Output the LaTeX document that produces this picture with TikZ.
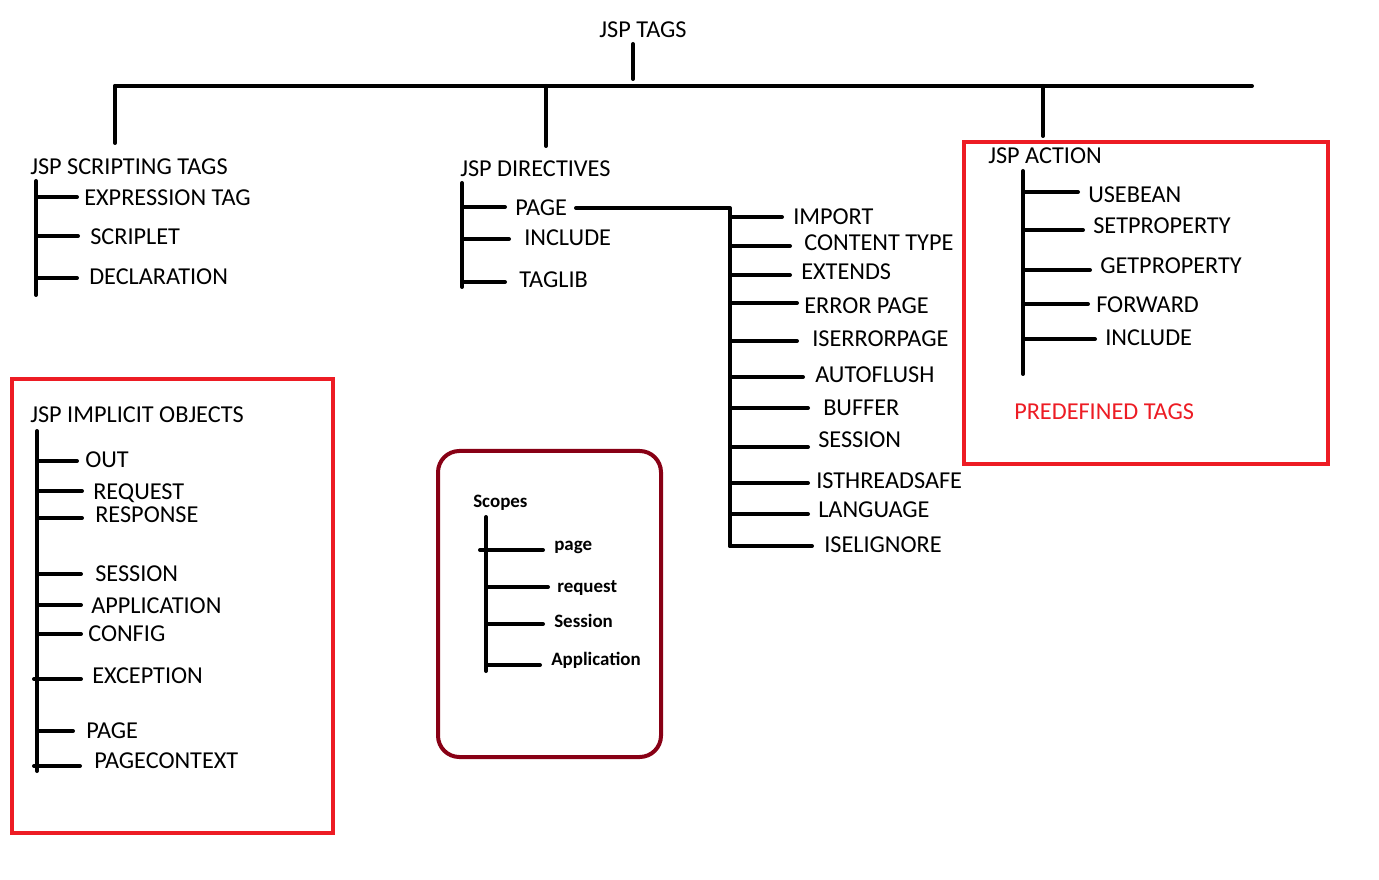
\documentclass[tikz,border=0pt]{standalone}
\usepackage{fontspec}
\setmainfont{Carlito}
\definecolor{paintred}{HTML}{ED1C24}
\definecolor{paintdark}{HTML}{880015}
\tikzset{
  wire/.style={line width=3pt,line cap=round,black},
  lbl/.style={font=\fontsize{18.2}{21}\selectfont,inner sep=0pt,anchor=west,text=black},
  slbl/.style={font=\fontsize{14.2}{17}\selectfont\bfseries,inner sep=0pt,anchor=west,text=black},
  redbox/.style={line width=3pt,draw=paintred},
  scopebox/.style={line width=3pt,draw=paintdark,rounded corners=16pt},
}
% \jspbranch{name}{spine x}{line y}{line end x}{text x}{text y}{style}{text}
\newcommand\jspbranch[8]{%
  \coordinate (#1-a) at (#2,#3);
  \coordinate (#1-b) at (#4,#3);
  \draw[wire] (#1-a) -- (#1-b);
  \node[#7] (#1) at (#5,#6) {#8};
}
\begin{document}
\begin{tikzpicture}[x=0.75pt,y=-0.75pt]
\useasboundingbox (0,0) rectangle (1379,880);
\fill[white] (0,0) rectangle (1379,880);

% root
\node[lbl,anchor=center] (root) at (643,30) {JSP TAGS};
\coordinate (rt) at (633,44);
\coordinate (rb) at (633,79);
\draw[wire] (rt) -- (rb);
\coordinate (barL) at (115,86);
\coordinate (barR) at (1252,86);
\draw[wire] (barL) -- (barR);
\coordinate (d1) at (115,143);
\coordinate (d2t) at (546,86);
\coordinate (d2) at (546,146);
\coordinate (d3t) at (1043,86);
\coordinate (d3) at (1043,136);
\draw[wire] (barL) -- (d1);
\draw[wire] (d2t) -- (d2);
\draw[wire] (d3t) -- (d3);

% scripting tags
\node[lbl] (scr) at (30,167) {JSP SCRIPTING TAGS};
\coordinate (scrT) at (36,181);
\coordinate (scrB) at (36,295);
\draw[wire] (scrT) -- (scrB);
\jspbranch{expr}{36}{197}{77}{84}{198}{lbl}{EXPRESSION TAG}
\jspbranch{scrip}{36}{236}{78}{90}{237}{lbl}{SCRIPLET}
\jspbranch{decl}{36}{278}{77}{89}{277}{lbl}{DECLARATION}

% directives
\node[lbl] (dir) at (460,169) {JSP DIRECTIVES};
\coordinate (dirT) at (462,183);
\coordinate (dirB) at (462,287);
\draw[wire] (dirT) -- (dirB);
\jspbranch{page}{462}{207}{505}{515}{208}{lbl}{PAGE}
\jspbranch{incl}{462}{239}{509}{524}{238}{lbl}{INCLUDE}
\jspbranch{taglib}{462}{282}{505}{519}{280}{lbl}{TAGLIB}
\coordinate (pgE) at (576,208);
\coordinate (pgC) at (730,208);
\coordinate (pgB) at (730,546);
\draw[wire,line join=round] (pgE) -- (pgC) -- (pgB);
\jspbranch{import}{730}{217}{782}{793}{217}{lbl}{IMPORT}
\jspbranch{ctype}{730}{246}{790}{804}{243}{lbl}{CONTENT TYPE}
\jspbranch{ext}{730}{275}{790}{801}{272}{lbl}{EXTENDS}
\jspbranch{errp}{730}{303}{797}{804}{306}{lbl}{ERROR PAGE}
\jspbranch{iserr}{730}{341}{797}{812}{339}{lbl}{ISERRORPAGE}
\jspbranch{afl}{730}{377}{803}{815}{375}{lbl}{AUTOFLUSH}
\jspbranch{buf}{730}{408}{808}{823}{408}{lbl}{BUFFER}
\jspbranch{sess}{730}{447}{808}{818}{440}{lbl}{SESSION}
\jspbranch{thr}{730}{483}{808}{816}{481}{lbl}{ISTHREADSAFE}
\jspbranch{lang}{730}{514}{808}{818}{510}{lbl}{LANGUAGE}
\jspbranch{isel}{730}{546}{812}{824}{545}{lbl}{ISELIGNORE}

% action
\node[redbox,draw,minimum width=364*0.75pt,minimum height=322*0.75pt,inner sep=0pt] (actbox) at (1146,303) {};
\node[lbl] (act) at (988,156) {JSP ACTION};
\coordinate (actT) at (1023,171);
\coordinate (actB) at (1023,374);
\draw[wire] (actT) -- (actB);
\jspbranch{usebean}{1023}{192}{1078}{1088}{195}{lbl}{USEBEAN}
\jspbranch{setp}{1023}{230}{1083}{1093}{226}{lbl}{SETPROPERTY}
\jspbranch{getp}{1023}{270}{1090}{1100}{266}{lbl}{GETPROPERTY}
\jspbranch{fwd}{1023}{304}{1088}{1096}{305}{lbl}{FORWARD}
\jspbranch{ainc}{1023}{339}{1095}{1105}{338}{lbl}{INCLUDE}
\node[lbl,text=paintred] (pre) at (1014,412) {PREDEFINED TAGS};

% implicit objects
\node[redbox,draw,minimum width=321*0.75pt,minimum height=454*0.75pt,inner sep=0pt] (impbox) at (172.5,606) {};
\node[lbl] (imp) at (30,415) {JSP IMPLICIT OBJECTS};
\coordinate (impT) at (37,431);
\coordinate (impB) at (37,771);
\draw[wire] (impT) -- (impB);
\jspbranch{out}{37}{461}{77}{85}{460}{lbl}{OUT}
\jspbranch{req}{37}{491}{82}{93}{493}{lbl}{REQUEST}
\jspbranch{resp}{37}{518}{82}{95}{515}{lbl}{RESPONSE}
\jspbranch{isess}{37}{574}{81}{95}{574}{lbl}{SESSION}
\jspbranch{app}{37}{605}{81}{91}{606}{lbl}{APPLICATION}
\jspbranch{conf}{37}{634}{81}{88}{634}{lbl}{CONFIG}
\jspbranch{exc}{34}{679}{81}{92}{676}{lbl}{EXCEPTION}
\jspbranch{ipage}{37}{731}{73}{86}{731}{lbl}{PAGE}
\jspbranch{pctx}{34}{766}{80}{94}{761}{lbl}{PAGECONTEXT}

% scopes
\node[scopebox,draw,minimum width=223*0.75pt,minimum height=306*0.75pt,inner sep=0pt] (scbox) at (549.5,604) {};
\node[slbl] (sc) at (473,503) {Scopes};
\coordinate (scT) at (486,517);
\coordinate (scB) at (486,671);
\draw[wire] (scT) -- (scB);
\jspbranch{spage}{480}{550}{543}{554}{547}{slbl}{page}
\jspbranch{sreq}{486}{587}{548}{557}{588}{slbl}{request}
\jspbranch{ssess}{486}{624}{543}{554}{621}{slbl}{Session}
\jspbranch{sapp}{486}{665}{540}{551}{660}{slbl}{Application}
\end{tikzpicture}
\end{document}
